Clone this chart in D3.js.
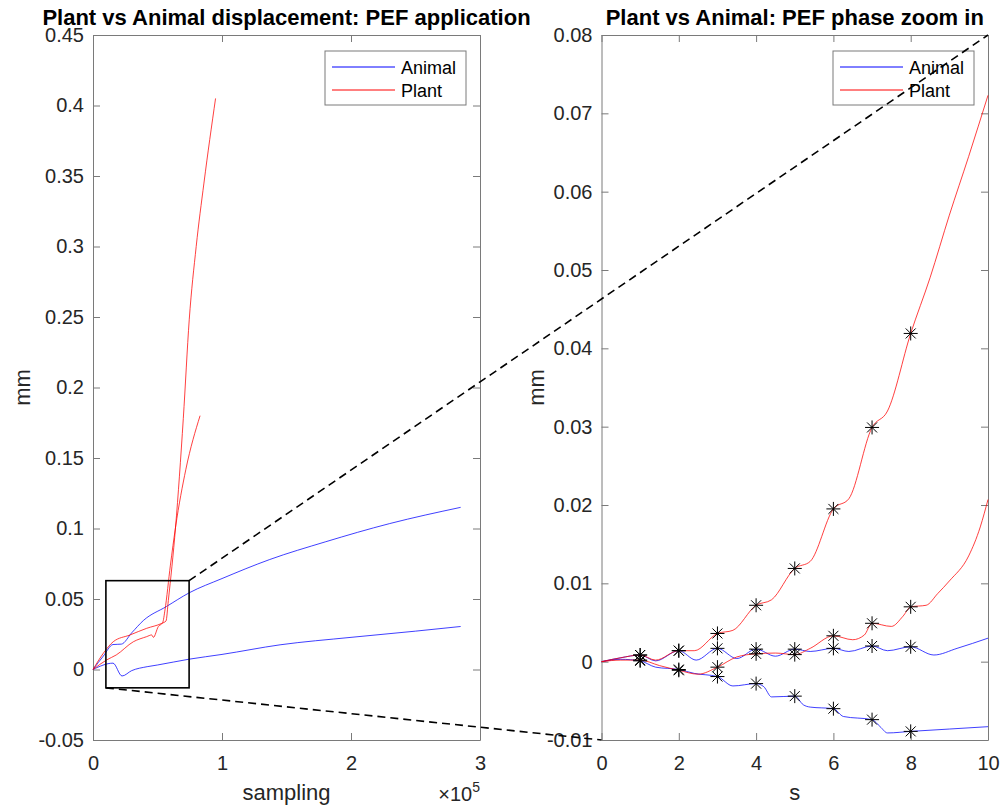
<!DOCTYPE html>
<html>
<head>
<meta charset="utf-8">
<script src="https://d3js.org/d3.v7.min.js"></script>
<style>
body{margin:0;background:#fff;}
svg text{font-family:"Liberation Sans",Arial,Helvetica,sans-serif;}
</style>
</head>
<body>
<script>
// ---- data ----
// left panel: whole run, x = sampling, y = mm
var animalRunA = [[0,0],[8000,0.0095],[15500,0.0177],[22000,0.018],[30000,0.026],[39000,0.0347],[57000,0.0447],[74400,0.0543],[100000,0.0645],[137000,0.078],[180000,0.0905],[230000,0.1035],[285000,0.115]];
var animalRunB = [[0,0],[15500,0.0045],[22500,-0.0046],[30000,-0.0008],[42000,0.002],[50000,0.0032],[74400,0.0073],[100000,0.0107],[145000,0.0175],[200000,0.0228],[250000,0.0272],[285000,0.0305]];
var plantRunA = [[0,0],[8000,0.0115],[15700,0.0197],[28700,0.0245],[41600,0.0292],[53200,0.0327],[56600,0.0344],[58400,0.049],[64000,0.101],[70000,0.178],[74600,0.248],[80000,0.3],[86000,0.345],[95000,0.405]];
var plantRunB = [[0,0],[10600,0.0068],[18000,0.0103],[31300,0.0197],[41600,0.0233],[45500,0.0245],[46800,0.0228],[50600,0.0304],[54000,0.0332],[55800,0.0422],[60000,0.074],[64000,0.101],[72000,0.142],[83000,0.18]];

// right panel: PEF phase, x = s, y = mm
var animalZoomA = [[0,0],[0.5,0.0005],[1,0.00085],[1.4,0.0001],[2,0.0014],[2.45,0.0002],[3,0.0017],[3.5,0.0004],[4,0.0016],[4.5,0.0007],[5,0.0016],[5.4,0.0013],[6,0.0017],[6.4,0.0013],[7,0.002],[7.4,0.0014],[8,0.0019],[8.6,0.00085],[9.2,0.0017],[10,0.003]];
var animalZoomB = [[0,0],[0.5,0.0003],[1,0.0001],[1.4,-0.0007],[2,-0.001],[2.4,-0.0015],[3,-0.0019],[3.4,-0.0031],[4,-0.0028],[4.2,-0.0032],[4.4,-0.0045],[5,-0.0044],[5.22,-0.0055],[5.4,-0.0058],[6,-0.006],[6.26,-0.007],[7,-0.0074],[7.21,-0.0083],[7.4,-0.0091],[8,-0.0089],[9,-0.0086],[10,-0.0083]];
var plantZoomA = [[0,0],[0.5,0.0005],[1,0.00085],[1.4,0.0002],[2,0.0014],[2.4,0.0014],[3,0.0036],[3.4,0.004],[4,0.0072],[4.4,0.0079],[5,0.0119],[5.4,0.0128],[6,0.0195],[6.4,0.0208],[7,0.0299],[7.4,0.032],[8,0.0419],[8.5,0.049],[9,0.057],[9.5,0.0645],[10,0.0723]];
var plantZoomB = [[0,0],[0.5,0.0002],[1,0.0002],[1.5,-0.0005],[2,-0.0011],[2.5,-0.0016],[3,-0.0007],[3.5,0.0006],[4,0.001],[4.5,0.0011],[5,0.0009],[5.4,0.0017],[6,0.0033],[6.5,0.0028],[6.8,0.0034],[7,0.0049],[7.5,0.0045],[7.8,0.0058],[8,0.007],[8.4,0.0072],[8.7,0.0087],[9,0.0103],[9.5,0.0135],[9.8,0.0172],[10,0.0207]];
var markerTimes = [1,2,3,4,5,6,7,8];

// ticks
var leftXTicks = [0,100000,200000,300000];
var leftXLabels = ["0","1","2","3"];
var leftYTicks = [-0.05,0,0.05,0.1,0.15,0.2,0.25,0.3,0.35,0.4,0.45];
var leftYLabels = ["-0.05","0","0.05","0.1","0.15","0.2","0.25","0.3","0.35","0.4","0.45"];
var rightXTicks = [0,2,4,6,8,10];
var rightXLabels = ["0","2","4","6","8","10"];
var rightYTicks = [-0.01,0,0.01,0.02,0.03,0.04,0.05,0.06,0.07,0.08];
var rightYLabels = ["-0.01","0","0.01","0.02","0.03","0.04","0.05","0.06","0.07","0.08"];

var seriesNames = ["Animal","Plant"];
var seriesColors = ["#0000ff","#ff0000"];

// zoom box on the left panel (sampling, mm)
var zoomBoxX = [10000,74500];
var zoomBoxY = [-0.013,0.063];

var w = 1002, h = 807;
var plotTop = 35, plotBottom = 740;

var svg = d3.select("body").append("svg").attr("width",w).attr("height",h);
svg.append("rect").attr("width",w).attr("height",h).attr("fill","#fff");

var xL = d3.scaleLinear().domain([0,300000]).range([93,480]);
var yL = d3.scaleLinear().domain([-0.05,0.45]).range([plotBottom,plotTop]);
var xR = d3.scaleLinear().domain([0,10]).range([601.5,988]);
var yR = d3.scaleLinear().domain([-0.01,0.08]).range([plotBottom,plotTop]);

function drawAxes(x, y, xt, xl, yt, yl){
    var g = svg.append("g");
    var fx = function(d){return xl[xt.indexOf(d)];};
    var fy = function(d){return yl[yt.indexOf(d)];};
    var x0 = x.range()[0], x1 = x.range()[1];
    g.append("g").attr("transform","translate(0,"+plotBottom+")")
        .call(d3.axisBottom(x).tickValues(xt).tickFormat(fx).tickSize(-7).tickSizeOuter(0).tickPadding(16));
    g.append("g").attr("transform","translate(0,"+plotTop+")")
        .call(d3.axisTop(x).tickValues(xt).tickFormat(function(){return "";}).tickSize(-7).tickSizeOuter(0));
    g.append("g").attr("transform","translate("+x0+",0)")
        .call(d3.axisLeft(y).tickValues(yt).tickFormat(fy).tickSize(-7).tickSizeOuter(0).tickPadding(9));
    g.append("g").attr("transform","translate("+x1+",0)")
        .call(d3.axisRight(y).tickValues(yt).tickFormat(function(){return "";}).tickSize(-7).tickSizeOuter(0));
    g.selectAll(".domain").attr("stroke","#7a7a7a").attr("stroke-width",1);
    g.selectAll(".tick line").attr("stroke","#7a7a7a").attr("stroke-width",1);
    g.selectAll("text").style("font-size","20px").attr("fill","#262626");
    return g;
}

function drawLines(x, y, list, color){
    var line = d3.line().x(function(d){return x(d[0]);}).y(function(d){return y(d[1]);}).curve(d3.curveMonotoneX);
    list.forEach(function(s){
        svg.append("path").attr("d",line(s)).attr("fill","none")
            .attr("stroke",color).attr("stroke-width",1).attr("stroke-opacity",0.75);
    });
}

function drawLegend(x, y){
    var bx = x.range()[1] - 14 - 141, by = plotTop + 16;
    var g = svg.append("g");
    g.append("rect").attr("x",bx).attr("y",by).attr("width",141).attr("height",54)
        .attr("fill","#fff").attr("stroke","#7a7a7a").attr("stroke-width",1);
    seriesNames.forEach(function(n,i){
        var ry = by + 16 + i*23;
        g.append("line").attr("x1",bx+7).attr("x2",bx+70).attr("y1",ry).attr("y2",ry)
            .attr("stroke",seriesColors[i]).attr("stroke-width",1);
        g.append("text").attr("x",bx+76).attr("y",ry+6.5).text(n)
            .style("font-size","18px").attr("fill","#000");
    });
}

function star(g, cx, cy){
    var r = 7, q = 5;
    g.append("path").attr("transform","translate("+cx+","+cy+")")
        .attr("d","M"+(-r)+",0H"+r+"M0,"+(-r)+"V"+r+"M"+(-q)+","+(-q)+"L"+q+","+q+"M"+(-q)+","+q+"L"+q+","+(-q))
        .attr("stroke","#000").attr("stroke-width",1).attr("fill","none");
}

// ---- left panel ----
drawAxes(xL, yL, leftXTicks, leftXLabels, leftYTicks, leftYLabels);
drawLines(xL, yL, [animalRunA, animalRunB], seriesColors[0]);
drawLines(xL, yL, [plantRunA, plantRunB], seriesColors[1]);
drawLegend(xL, yL);

// ---- right panel ----
drawAxes(xR, yR, rightXTicks, rightXLabels, rightYTicks, rightYLabels);
drawLines(xR, yR, [animalZoomA, animalZoomB], seriesColors[0]);
drawLines(xR, yR, [plantZoomA, plantZoomB], seriesColors[1]);
var stars = svg.append("g");
[animalZoomA, animalZoomB, plantZoomA, plantZoomB].forEach(function(s){
    s.filter(function(d){return markerTimes.indexOf(d[0]) >= 0;}).forEach(function(d){
        star(stars, xR(d[0]), yR(d[1]));
    });
});
drawLegend(xR, yR);

// ---- titles and labels ----
function midX(x){return (x.range()[0]+x.range()[1])/2;}
var midY = (plotTop+plotBottom)/2;
svg.append("text").attr("x",midX(xL)).attr("y",25).attr("text-anchor","middle")
    .style("font-size","22px").style("font-weight","bold").attr("fill","#000")
    .text("Plant vs Animal displacement: PEF application");
svg.append("text").attr("x",midX(xR)).attr("y",25).attr("text-anchor","middle")
    .style("font-size","22px").style("font-weight","bold").attr("fill","#000")
    .text("Plant vs Animal: PEF phase zoom in");
svg.append("text").attr("x",midX(xL)).attr("y",800).attr("text-anchor","middle")
    .style("font-size","22px").attr("fill","#262626").text("sampling");
svg.append("text").attr("x",midX(xR)).attr("y",800).attr("text-anchor","middle")
    .style("font-size","22px").attr("fill","#262626").text("s");
svg.append("text").attr("transform","translate(30,"+midY+") rotate(-90)").attr("text-anchor","middle")
    .style("font-size","22px").attr("fill","#262626").text("mm");
svg.append("text").attr("transform","translate(544,"+midY+") rotate(-90)").attr("text-anchor","middle")
    .style("font-size","22px").attr("fill","#262626").text("mm");
var expo = svg.append("text").attr("x",xL.range()[1]).attr("y",801).attr("text-anchor","end")
    .style("font-size","20px").attr("fill","#262626");
expo.append("tspan").text("\u00d710");
expo.append("tspan").attr("dy",-9).style("font-size","14px").text("5");

// ---- zoom annotation ----
var ann = svg.append("g");
ann.append("rect").attr("x",xL(zoomBoxX[0])).attr("y",yL(zoomBoxY[1]))
    .attr("width",xL(zoomBoxX[1])-xL(zoomBoxX[0])).attr("height",yL(zoomBoxY[0])-yL(zoomBoxY[1]))
    .attr("fill","none").attr("stroke","#000").attr("stroke-width",1.6);
ann.append("line").attr("x1",xL(zoomBoxX[1])).attr("y1",yL(zoomBoxY[1]))
    .attr("x2",xR(10)).attr("y2",yR(0.08))
    .attr("stroke","#000").attr("stroke-width",1.6).attr("stroke-dasharray","8,5");
ann.append("line").attr("x1",xL(zoomBoxX[0])).attr("y1",yL(zoomBoxY[0]))
    .attr("x2",xR(0)).attr("y2",yR(-0.01))
    .attr("stroke","#000").attr("stroke-width",1.6).attr("stroke-dasharray","8,5");
</script>
</body>
</html>
